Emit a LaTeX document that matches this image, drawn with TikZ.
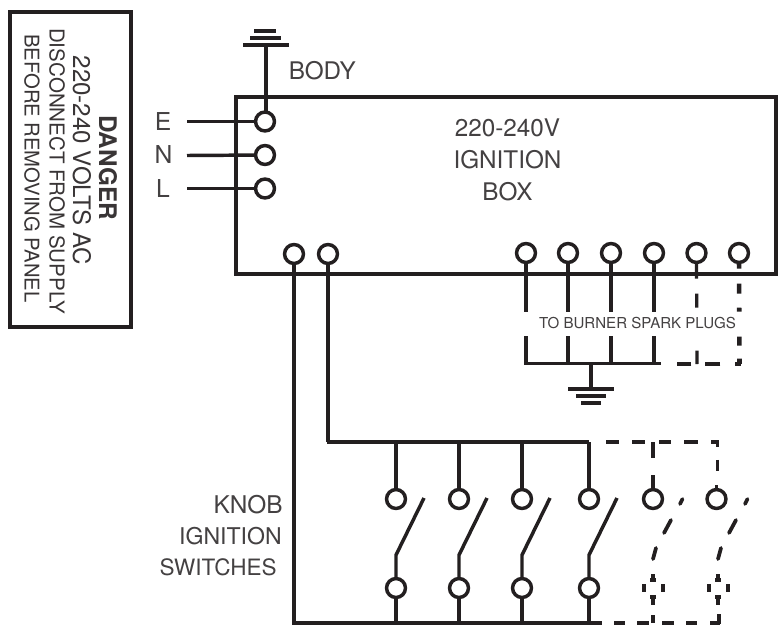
\documentclass[tikz,border=0pt]{standalone}
\usepackage{fontspec}
\setmainfont{TeX Gyre Heros}
\newcommand{\fs}[2]{\fontsize{#1}{#2}\selectfont}
\tikzset{
  x=0.75pt, y=-0.75pt,
  term/.style={circle, draw=ink, fill=white, line width=2.6pt, minimum size=14.2pt, inner sep=0pt},
  ghost/.style={circle, minimum size=14.2pt, inner sep=0pt},
  wire/.style={draw=ink, line width=2.6pt},
  heavy/.style={draw=ink, line width=3.4pt},
  thin wire/.style={draw=ink, line width=2.4pt},
  dashwire/.style={draw=ink, line width=2.6pt},
  label/.style={text=ink!85, inner sep=0pt},
  warn/.style={text=ink!90, inner sep=0pt, rotate=-90},
}
\definecolor{ink}{HTML}{231F20}
\begin{document}
\begin{tikzpicture}
\useasboundingbox (0,0) rectangle (784,635);
\fill[white] (0,0) rectangle (784,635);
% danger panel
\node[draw=ink, line width=2.7pt, minimum width=91pt, minimum height=236pt, inner sep=0pt] (panel) at (70.5,169.5) {};
\node[warn, font=\fs{18.2pt}{20pt}\bfseries] (danger) at (108,167.5) {DANGER};
\node[warn, font=\fs{18.1pt}{20pt}] (volts) at (82,160.5) {220-240 VOLTS AC};
\node[warn, font=\fs{15.4pt}{18pt}] (disc) at (57,171) {DISCONNECT FROM SUPPLY};
\node[warn, font=\fs{15.2pt}{18pt}] (before) at (32,168.5) {BEFORE REMOVING PANEL};
% body ground
\coordinate (bodyg) at (266,45);
\draw[wire] (bodyg) -- (266,112);
\draw[draw=ink, line width=2.3pt] (243,45) -- (289,45);
\draw[draw=ink, line width=3.4pt] (250,38) -- (281,38);
\draw[draw=ink, line width=3.4pt] (254,31) -- (276,31);
\node[label, font=\fs{18.2pt}{20pt}, anchor=west] (body) at (288.5,71) {BODY};
% ignition box
\node[draw=ink, line width=3pt, minimum width=405pt, minimum height=132.5pt, inner sep=0pt] (box) at (505.5,185.5) {};
\node[label, align=center, font=\fs{18.2pt}{24pt}] (boxt) at (507.5,160) {220-240V\\IGNITION\\BOX};
% supply
\coordinate (ew) at (187,121.5); \coordinate (nw) at (187,155.5); \coordinate (lw) at (187,188.5);
\node[term] (e) at (265,121.5) {};
\node[term] (n) at (265,155) {};
\node[term] (l) at (265,188.5) {};
\draw[wire] (ew) -- (e); \draw[wire] (nw) -- (n); \draw[wire] (lw) -- (l);
\node[label, font=\fs{18.5pt}{20pt}] (te) at (163,122) {E};
\node[label, font=\fs{18.5pt}{20pt}] (tn) at (163.5,155) {N};
\node[label, font=\fs{18.5pt}{20pt}] (tl) at (163,189) {L};
% box bottom terminals
\node[term] (a) at (294,254) {};
\node[term] (b) at (328,254) {};
\node[term] (t1) at (526,253) {};
\node[term] (t2) at (568,253) {};
\node[term] (t3) at (611,253) {};
\node[term] (t4) at (654,253) {};
\node[term] (t5) at (696.5,253) {};
\node[term] (t6) at (739,253) {};
% burner rail
\coordinate (r1) at (526,364); \coordinate (r2) at (568,364); \coordinate (r3) at (611,364); \coordinate (r4) at (654,364);
\coordinate (g) at (591,364); \coordinate (gb) at (591,389);
\draw[heavy] (t1) -- (r1);
\draw[thin wire] (t2) -- (r2);
\draw[thin wire] (t3) -- (r3);
\draw[heavy] (t4) -- (r4);
\draw[thin wire, line cap=butt] (524.3,363.5) -- (661,363.5);
\draw[wire] (g) -- (gb);
\draw[draw=ink, line width=3pt] (568,389) -- (614,389);
\draw[draw=ink, line width=3pt] (576,396) -- (606,396);
\draw[draw=ink, line width=3pt] (581,403) -- (601,403);
% dashed burner runs
\coordinate (c5) at (697,364); \coordinate (c6) at (739.5,364);
\draw[draw=ink, line width=2.4pt, dash pattern=on 10.9pt off 11.25pt on 10.5pt off 32.25pt on 10.5pt off 100pt] (t5.south) -- (c5);
\draw[draw=ink, line width=3.4pt, dash pattern=on 3.4pt off 11.25pt on 7.5pt off 10.5pt on 3pt off 18.75pt on 6.75pt off 9.75pt on 4.5pt off 100pt] (t6.south) -- (c6);
\draw[draw=ink, line width=3pt, dash pattern=on 4.5pt off 10.9pt on 11.25pt off 10.5pt on 10.5pt off 100pt] (740.8,364) -- (660,364);
% label over the gap
\fill[white] (520,312) rectangle (745,336);
\node[label, font=\fs{11.3pt}{12pt}] (spark) at (637.5,323.5) {TO BURNER SPARK PLUGS};
% common rails
\coordinate (ta) at (294,623); \coordinate (tb) at (328,442);
\coordinate (s4t) at (589,442);
\draw[heavy] (a) -- (ta);
\draw[wire] (b) -- (tb);
\draw[wire, line cap=butt] (326.7,442) -- (s4t);
\draw[heavy] (292.3,623) -- (602,623);
% switches
\foreach \nm/\x in {p/396,q/459,r/522,s/589}{
  \node[term] (\nm u) at (\x,499) {};
  \node[term] (\nm d) at (\x,588) {};
  \coordinate (\nm k) at (\x,555);
  \coordinate (\nm f) at (\x+28,498);
  \coordinate (\nm t) at (\x,442);
  \coordinate (\nm b) at (\x,623);
  \draw[wire] (\nm t) -- (\nm u);
  \draw[wire] (\nm f) -- (\nm k) -- (\nm d);
  \draw[heavy] (\nm d) -- (\nm b);
}
% dashed extension: top
\coordinate (dt) at (717.5,442); \coordinate (ds) at (717.5,490);
\draw[dashwire, dash pattern=on 0pt off 12.75pt on 9.75pt off 9.75pt on 9.75pt off 10.5pt on 9pt off 9.75pt on 10.5pt off 9.75pt on 8.6pt off 9.75pt on 8.25pt off 100pt] (s4t) -- (dt) -- (ds);
% dashed extension: bottom
\coordinate (db) at (721,623); \coordinate (de) at (719,614);
\draw[heavy, dash pattern=on 0pt off 9.75pt on 8.25pt off 9pt on 9pt off 9.75pt on 9pt off 9pt on 8.25pt off 9.75pt on 7.5pt off 100pt] (601,623) -- (db);
\draw[heavy] (719,624.3) -- (de);
\draw[thin wire] (653,615) -- (653,623);
% extension switches
\node[term] (uu) at (653,499) {};
\node[term] (vu) at (716.5,499) {};
\draw[heavy] (653,442) -- (653,458);
\draw[heavy] (653,475) -- (uu);
\draw[wire] (716.5,485) -- (vu);
\foreach \x/\nm in {653/u,718/v}{
  \node[ghost] (\nm d) at (\x,588) {};
  \draw[draw=ink, line width=2.8pt, line cap=round] (\x+27,504) -- (\x+29.5,499);
  \draw[draw=ink, line width=2.8pt, line cap=round] (\x+11,533) -- (\x+18,520);
  \draw[draw=ink, line width=2.8pt, line cap=round] (\x,559) -- (\x+3,548);
  \draw[draw=ink, line width=3pt] (\x,574) -- (\x,580);
  \draw[draw=ink, line width=3.4pt] (\x-3,580) -- (\x+3,580);
  \draw[draw=ink, line width=3pt] (\x-9.5,584) -- (\x-9.5,592);
  \draw[draw=ink, line width=3pt] (\x+9.5,584) -- (\x+9.5,592);
  \draw[draw=ink, line width=3.4pt] (\x-3,597) -- (\x+3,597);
  \draw[draw=ink, line width=3pt] (\x,597) -- (\x,605);
}
% switches label
\node[label, anchor=east, font=\fs{18.3pt}{20pt}] (knob) at (283,505) {KNOB};
\node[label, anchor=east, font=\fs{17.3pt}{20pt}] (ign) at (282,536) {IGNITION};
\node[label, anchor=east, font=\fs{16.9pt}{20pt}] (sw) at (277,567) {SWITCHES};
\end{tikzpicture}
\end{document}
